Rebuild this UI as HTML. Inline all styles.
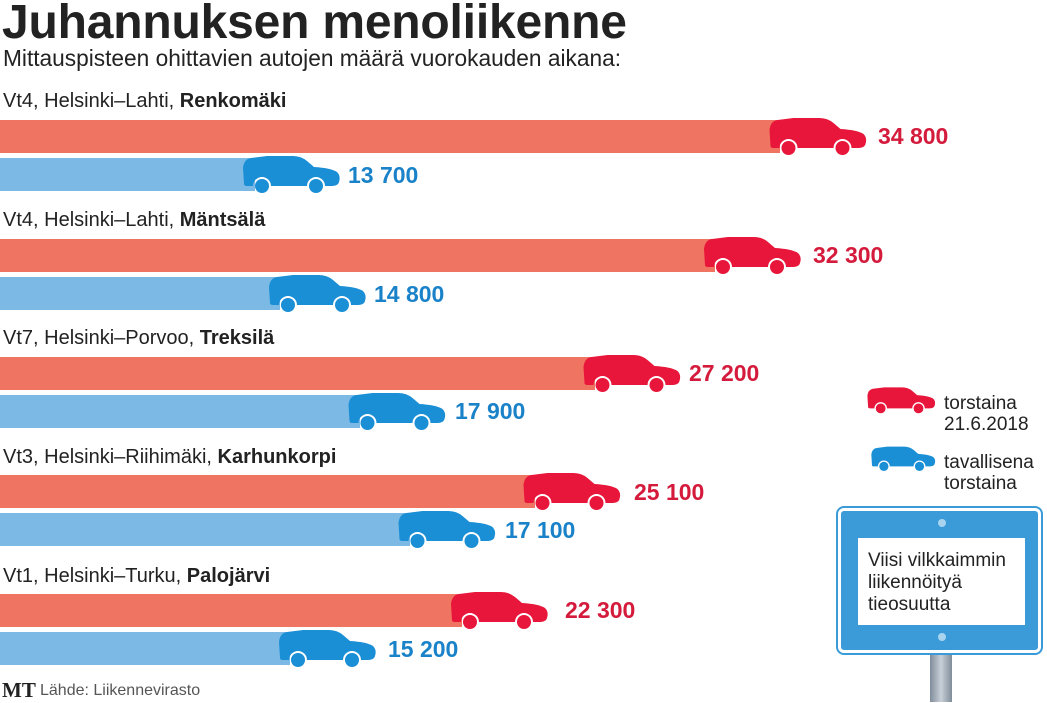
<!DOCTYPE html>
<html><head><meta charset="utf-8"><style>
body{margin:0;width:1047px;height:702px;background:#fff;overflow:hidden;position:relative;font-family:"Liberation Sans",sans-serif;}
.t{position:absolute;left:2px;top:-5px;font-family:"Liberation Sans Narrow","Liberation Sans",sans-serif;font-weight:bold;font-size:48px;color:#222;letter-spacing:-0.2px}
.s{position:absolute;left:3px;top:45px;font-size:22.7px;color:#222}
.l{position:absolute;left:3px;font-size:20px;color:#222}
.bar{position:absolute;left:0;height:33px}
.r{background:#f07462}.b{background:#7cb9e5}
.v{position:absolute;font-weight:bold;font-size:23px}
.vr{color:#d41b3c}.vb{color:#1a82c9}
svg.c{position:absolute}
</style></head><body>
<svg width="0" height="0" style="position:absolute"><defs>
<symbol id="car" viewBox="0 0 100 40"><path d="M3,30 L2,14 Q3,5 10,4 L26,2 L52,2 Q60,2 66,7 L73,13 Q90,14 96,18 Q100,22 98,28 Q97,32 90,32 L84,32 A9,9 0 0 0 66,32 L30,32 A9,9 0 0 0 12,32 L6,32 Q3,32 3,30 Z"/><circle cx="21" cy="32" r="7"/><circle cx="75" cy="32" r="7"/></symbol>
</defs></svg>
<div class="t">Juhannuksen menoliikenne</div>
<div class="s">Mittauspisteen ohittavien autojen määrä vuorokauden aikana:</div>

<div class="l" style="top:90px">Vt4, Helsinki–Lahti, <b>Renkomäki</b></div>
<div class="bar r" style="top:120px;width:780px"></div>
<svg class="c" style="left:765px;top:116px" width="105" height="40" fill="#e8163a"><use href="#car"/></svg>
<div class="v vr" style="left:878px;top:123px">34 800</div>
<div class="bar b" style="top:158px;width:255px"></div>
<svg class="c" style="left:240px;top:154px" width="102" height="40" fill="#1a8fd6"><use href="#car"/></svg>
<div class="v vb" style="left:348px;top:162px">13 700</div>

<div class="l" style="top:209px">Vt4, Helsinki–Lahti, <b>Mäntsälä</b></div>
<div class="bar r" style="top:239px;width:715px"></div>
<svg class="c" style="left:700px;top:235px" width="104" height="40" fill="#e8163a"><use href="#car"/></svg>
<div class="v vr" style="left:813px;top:242px">32 300</div>
<div class="bar b" style="top:277px;width:280px"></div>
<svg class="c" style="left:265px;top:273px" width="104" height="40" fill="#1a8fd6"><use href="#car"/></svg>
<div class="v vb" style="left:374px;top:281px">14 800</div>

<div class="l" style="top:327px">Vt7, Helsinki–Porvoo, <b>Treksilä</b></div>
<div class="bar r" style="top:357px;width:595px"></div>
<svg class="c" style="left:580px;top:353px" width="103" height="40" fill="#e8163a"><use href="#car"/></svg>
<div class="v vr" style="left:689px;top:360px">27 200</div>
<div class="bar b" style="top:395px;width:360px"></div>
<svg class="c" style="left:345px;top:391px" width="103" height="40" fill="#1a8fd6"><use href="#car"/></svg>
<div class="v vb" style="left:455px;top:398px">17 900</div>

<div class="l" style="top:446px">Vt3, Helsinki–Riihimäki, <b>Karhunkorpi</b></div>
<div class="bar r" style="top:475px;width:535px"></div>
<svg class="c" style="left:520px;top:471px" width="103" height="40" fill="#e8163a"><use href="#car"/></svg>
<div class="v vr" style="left:634px;top:479px">25 100</div>
<div class="bar b" style="top:513px;width:410px"></div>
<svg class="c" style="left:395px;top:509px" width="103" height="40" fill="#1a8fd6"><use href="#car"/></svg>
<div class="v vb" style="left:505px;top:517px">17 100</div>

<div class="l" style="top:565px">Vt1, Helsinki–Turku, <b>Palojärvi</b></div>
<div class="bar r" style="top:594px;width:462px"></div>
<svg class="c" style="left:447px;top:590px" width="104" height="40" fill="#e8163a"><use href="#car"/></svg>
<div class="v vr" style="left:565px;top:597px">22 300</div>
<div class="bar b" style="top:632px;width:290px"></div>
<svg class="c" style="left:275px;top:628px" width="104" height="40" fill="#1a8fd6"><use href="#car"/></svg>
<div class="v vb" style="left:388px;top:636px">15 200</div>

<div style="position:absolute;left:2px;top:678px;font-family:'Liberation Serif',serif;font-weight:bold;font-size:21px;color:#222">MT</div>
<div style="position:absolute;left:40px;top:682px;font-size:16px;color:#555">Lähde: Liikennevirasto</div>

<svg class="c" style="left:866px;top:384px" width="70" height="32" fill="#e8163a"><use href="#car"/></svg>
<div style="position:absolute;left:944px;top:393px;font-size:19px;color:#222;line-height:21px">torstaina<br>21.6.2018</div>
<svg class="c" style="left:870px;top:443px" width="66" height="31" fill="#1a8fd6"><use href="#car"/></svg>
<div style="position:absolute;left:944px;top:452px;font-size:19px;color:#222;line-height:21px">tavallisena<br>torstaina</div>

<div style="position:absolute;left:930px;top:655px;width:22px;height:47px;background:linear-gradient(90deg,#7f8c99,#c8d0d8,#7f8c99)"></div>
<div style="position:absolute;left:838px;top:508px;width:203px;height:145px;background:#3b9ad8;border:3px solid #fff;box-shadow:0 0 0 2px #3b9ad8;border-radius:6px;box-sizing:border-box"></div>
<div style="position:absolute;left:938px;top:519px;width:8px;height:8px;border-radius:50%;background:#a9d4f0"></div>
<div style="position:absolute;left:938px;top:633px;width:8px;height:8px;border-radius:50%;background:#a9d4f0"></div>
<div style="position:absolute;left:858px;top:538px;width:167px;height:87px;background:#fff"></div>
<div style="position:absolute;left:868px;top:550px;font-size:19px;color:#222;line-height:22px">Viisi vilkkaimmin<br>liikennöityä<br>tieosuutta</div>
</body></html>
